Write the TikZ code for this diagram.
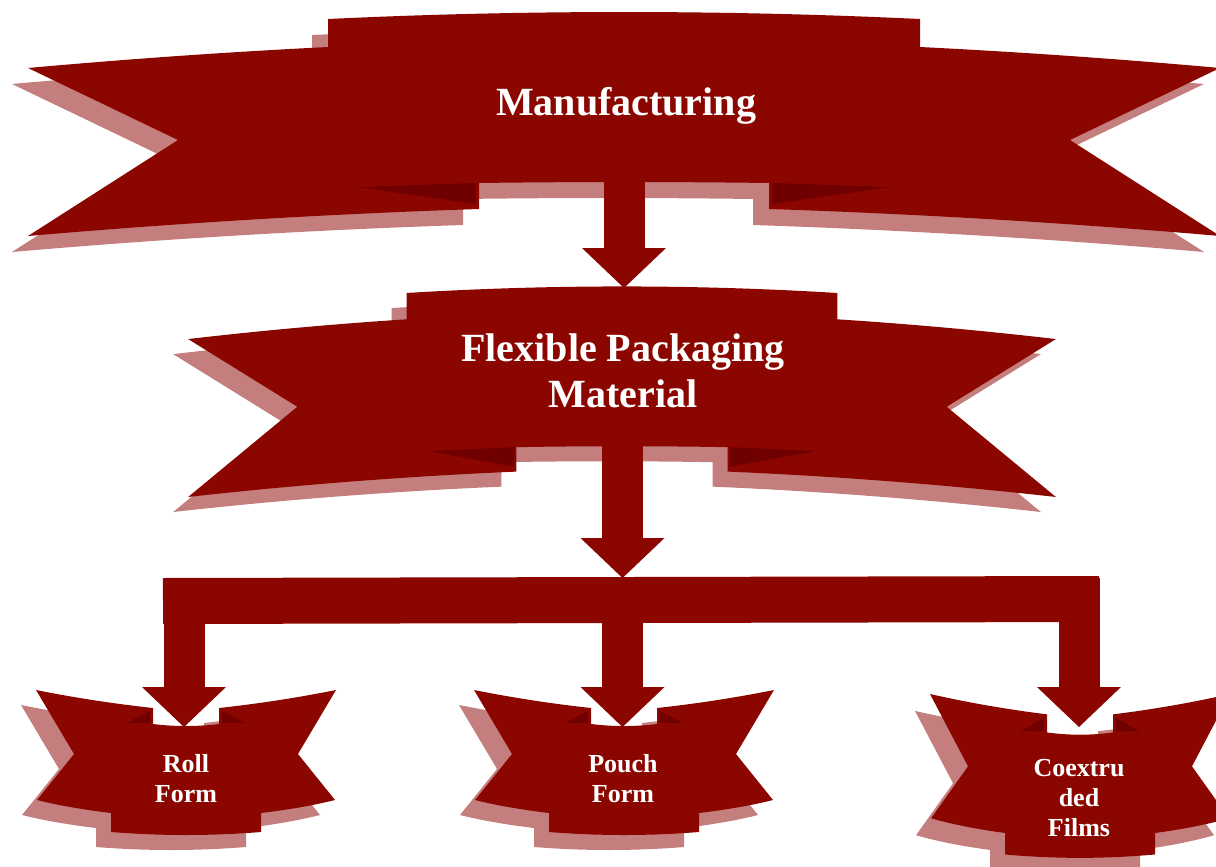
\documentclass[tikz,border=0pt]{standalone}
\usepackage{fontspec}
\setmainfont{Liberation Serif}
\usetikzlibrary{arrows.meta}
\definecolor{ribred}{RGB}{140,6,0}
\definecolor{ribpink}{RGB}{196,126,126}
\definecolor{ribdark}{RGB}{112,0,0}
\begin{document}
\begin{tikzpicture}[x=0.5pt,y=-0.5pt,
    rib/.style={fill=ribred},
    ribshadow/.style={fill=ribpink},
    ribfold/.style={fill=ribdark},
    flow/.style={draw=ribred,line width=20.5pt,-{Triangle[width=42pt,length=20pt,line width=0pt]}},
    forkbar/.style={draw=ribred,line width=23pt},
    label/.style={text=white,align=center,inner sep=0pt,anchor=base},
    big/.style={label,font=\fontsize{20}{23}\selectfont\bfseries},
    small/.style={label,font=\fontsize{13}{15}\selectfont\bfseries},
    pics/arch/.default=-16,
    pics/arch/.style={code={
      \foreach \dx/\dy/\col in {#1/16/ribshadow,0/0/rib}
        \fill[\col,shift={(\dx,\dy)}]
          (-296,0) .. controls (-100,-9.3) and (100,-9.3) .. (296,0)
          -- (296,28) .. controls (396,33) and (496,40) .. (596,49)
          -- (446,121) -- (596,217)
          .. controls (446,204) and (296,195) .. (145,190)
          -- (145,164) .. controls (50,162.7) and (-50,162.7) .. (-145,164)
          -- (-145,190) .. controls (-296,195) and (-446,204) .. (-596,217)
          -- (-446,121) -- (-596,49)
          .. controls (-496,40) and (-396,33) .. (-296,28) -- cycle;
      \fill[ribfold] (-266,168) -- (-148,164) -- (-148,185) -- cycle
                     (266,168) -- (148,164) -- (148,185) -- cycle;
    }},
    pics/smile/.style={code={
      \foreach \dx/\dy/\col in {-15/15/ribshadow,0/0/rib}
        \fill[\col,shift={(\dx,\dy)}]
          (-150,0) .. controls (-110,8) and (-70,14) .. (-33,18)
          -- (-33,34) .. controls (-11,36.7) and (11,36.7) .. (33,34)
          -- (33,18) .. controls (70,14) and (110,8) .. (150,0)
          -- (112,64) -- (149,110)
          .. controls (125,116) and (100,120) .. (75,123)
          -- (75,142) .. controls (25,146) and (-25,146) .. (-75,142)
          -- (-75,123) .. controls (-100,120) and (-125,116) .. (-149,110)
          -- (-112,64) -- cycle;
      \fill[ribfold] (-59,33) -- (-36,21) -- (-36,33) -- cycle
                     (59,33) -- (36,21) -- (36,33) -- cycle;
    }}]
  \useasboundingbox (0,0) rectangle (1216,867);
  \clip (0,0) rectangle (1216,867);
  % ribbons
  \pic at (624,19) {arch};
  \pic[xscale=0.728,yscale=0.94] at (622,293) {arch=-20.6};
  \pic at (186,690) {smile};
  \pic at (624,690) {smile};
  \pic[yscale=1.13] at (1080,694) {smile};
  % connectors
  \coordinate (r1b) at (624,182);
  \coordinate (r2t) at (624,288);
  \coordinate (r2b) at (622.5,446);
  \coordinate (fork) at (622.5,578);
  \coordinate (barl) at (163,601);
  \coordinate (barr) at (1099,599);
  \coordinate (rollt) at (184,727);
  \coordinate (poucht) at (622.5,727);
  \coordinate (coext) at (1079,727);
  \draw[flow] (r1b) -- (r2t);
  \draw[flow] (r2b) -- (fork);
  \draw[forkbar] (barl) -- (barr);
  \foreach \t in {rollt,poucht,coext}
    \draw[flow] (\t |- fork) -- (\t);
  % texts (base = last line)
  \node[big] (mfg) at (626,115) {Manufacturing};
  \node[big] (fpm) at (623,407) {Flexible Packaging\\Material};
  \node[small] (roll) at (186,802) {Roll\\Form};
  \node[small] (pouch) at (623,802) {Pouch\\Form};
  \node[small] (coex) at (1079,836) {Coextru\\ded\\Films};
\end{tikzpicture}
\end{document}
